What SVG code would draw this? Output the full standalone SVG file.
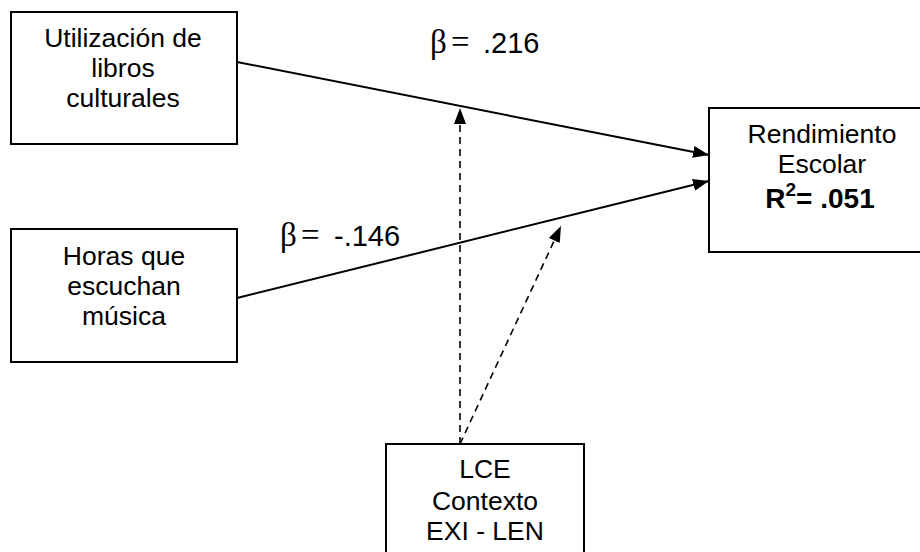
<svg xmlns="http://www.w3.org/2000/svg" width="920" height="552" viewBox="0 0 920 552">
<defs>
<style>
.box{fill:#fff;stroke:#000;stroke-width:2}
.t{font-family:"Liberation Sans",Arial,sans-serif;font-size:26.5px;fill:#000;text-anchor:middle}
.b{font-weight:bold;font-size:28px}
.solid{stroke:#000;stroke-width:2;fill:none}
.dash{stroke:#000;stroke-width:1.6;fill:none;stroke-dasharray:7 5}
.beta{font-family:"Liberation Serif","Times New Roman",serif;font-size:33px;fill:#000}
.num{font-family:"Liberation Sans",Arial,sans-serif;font-size:29px;fill:#000}
</style>
<marker id="ah" viewBox="0 0 16 12" refX="16" refY="6" markerWidth="16" markerHeight="12" markerUnits="userSpaceOnUse" orient="auto">
<path d="M0,0 L16,6 L0,12 Z" fill="#000"/>
</marker>
</defs>
<g id="connectors">
<line class="solid" x1="237" y1="62" x2="709" y2="155" marker-end="url(#ah)"/>
<line class="solid" x1="237" y1="298" x2="709" y2="181" marker-end="url(#ah)"/>
<line class="dash" x1="460" y1="444" x2="460" y2="108" marker-end="url(#ah)"/>
<line class="dash" x1="460" y1="444" x2="561" y2="226" marker-end="url(#ah)"/>
</g>
<g id="labels">
<text x="430" y="53"><tspan class="beta">β</tspan><tspan class="beta" x="451">=</tspan><tspan class="num" x="483">.216</tspan></text>
<text x="280" y="246"><tspan class="beta">β</tspan><tspan class="beta" x="301">=</tspan><tspan class="num" x="334">-.146</tspan></text>
</g>
<g id="n1">
<rect class="box" x="11" y="12" width="226" height="132"/>
<text class="t" x="123" y="47">Utilización de</text>
<text class="t" x="123" y="77">libros</text>
<text class="t" x="123" y="107">culturales</text>
</g>
<g id="n2">
<rect class="box" x="11" y="229" width="226" height="133"/>
<text class="t" x="124" y="265">Horas que</text>
<text class="t" x="124" y="295">escuchan</text>
<text class="t" x="124" y="325">música</text>
</g>
<g id="n3">
<rect class="box" x="709" y="108" width="226" height="144"/>
<text class="t" x="822" y="143">Rendimiento</text>
<text class="t" x="822" y="173">Escolar</text>
<text class="t b" x="820" y="208">R<tspan font-size="19" dy="-12">2</tspan><tspan dy="12">= .051</tspan></text>
</g>
<g id="n4">
<rect class="box" x="386" y="444" width="198" height="120"/>
<text class="t" x="485" y="478">LCE</text>
<text class="t" x="485" y="510">Contexto</text>
<text class="t" x="485" y="540">EXI - LEN</text>
</g>
</svg>
